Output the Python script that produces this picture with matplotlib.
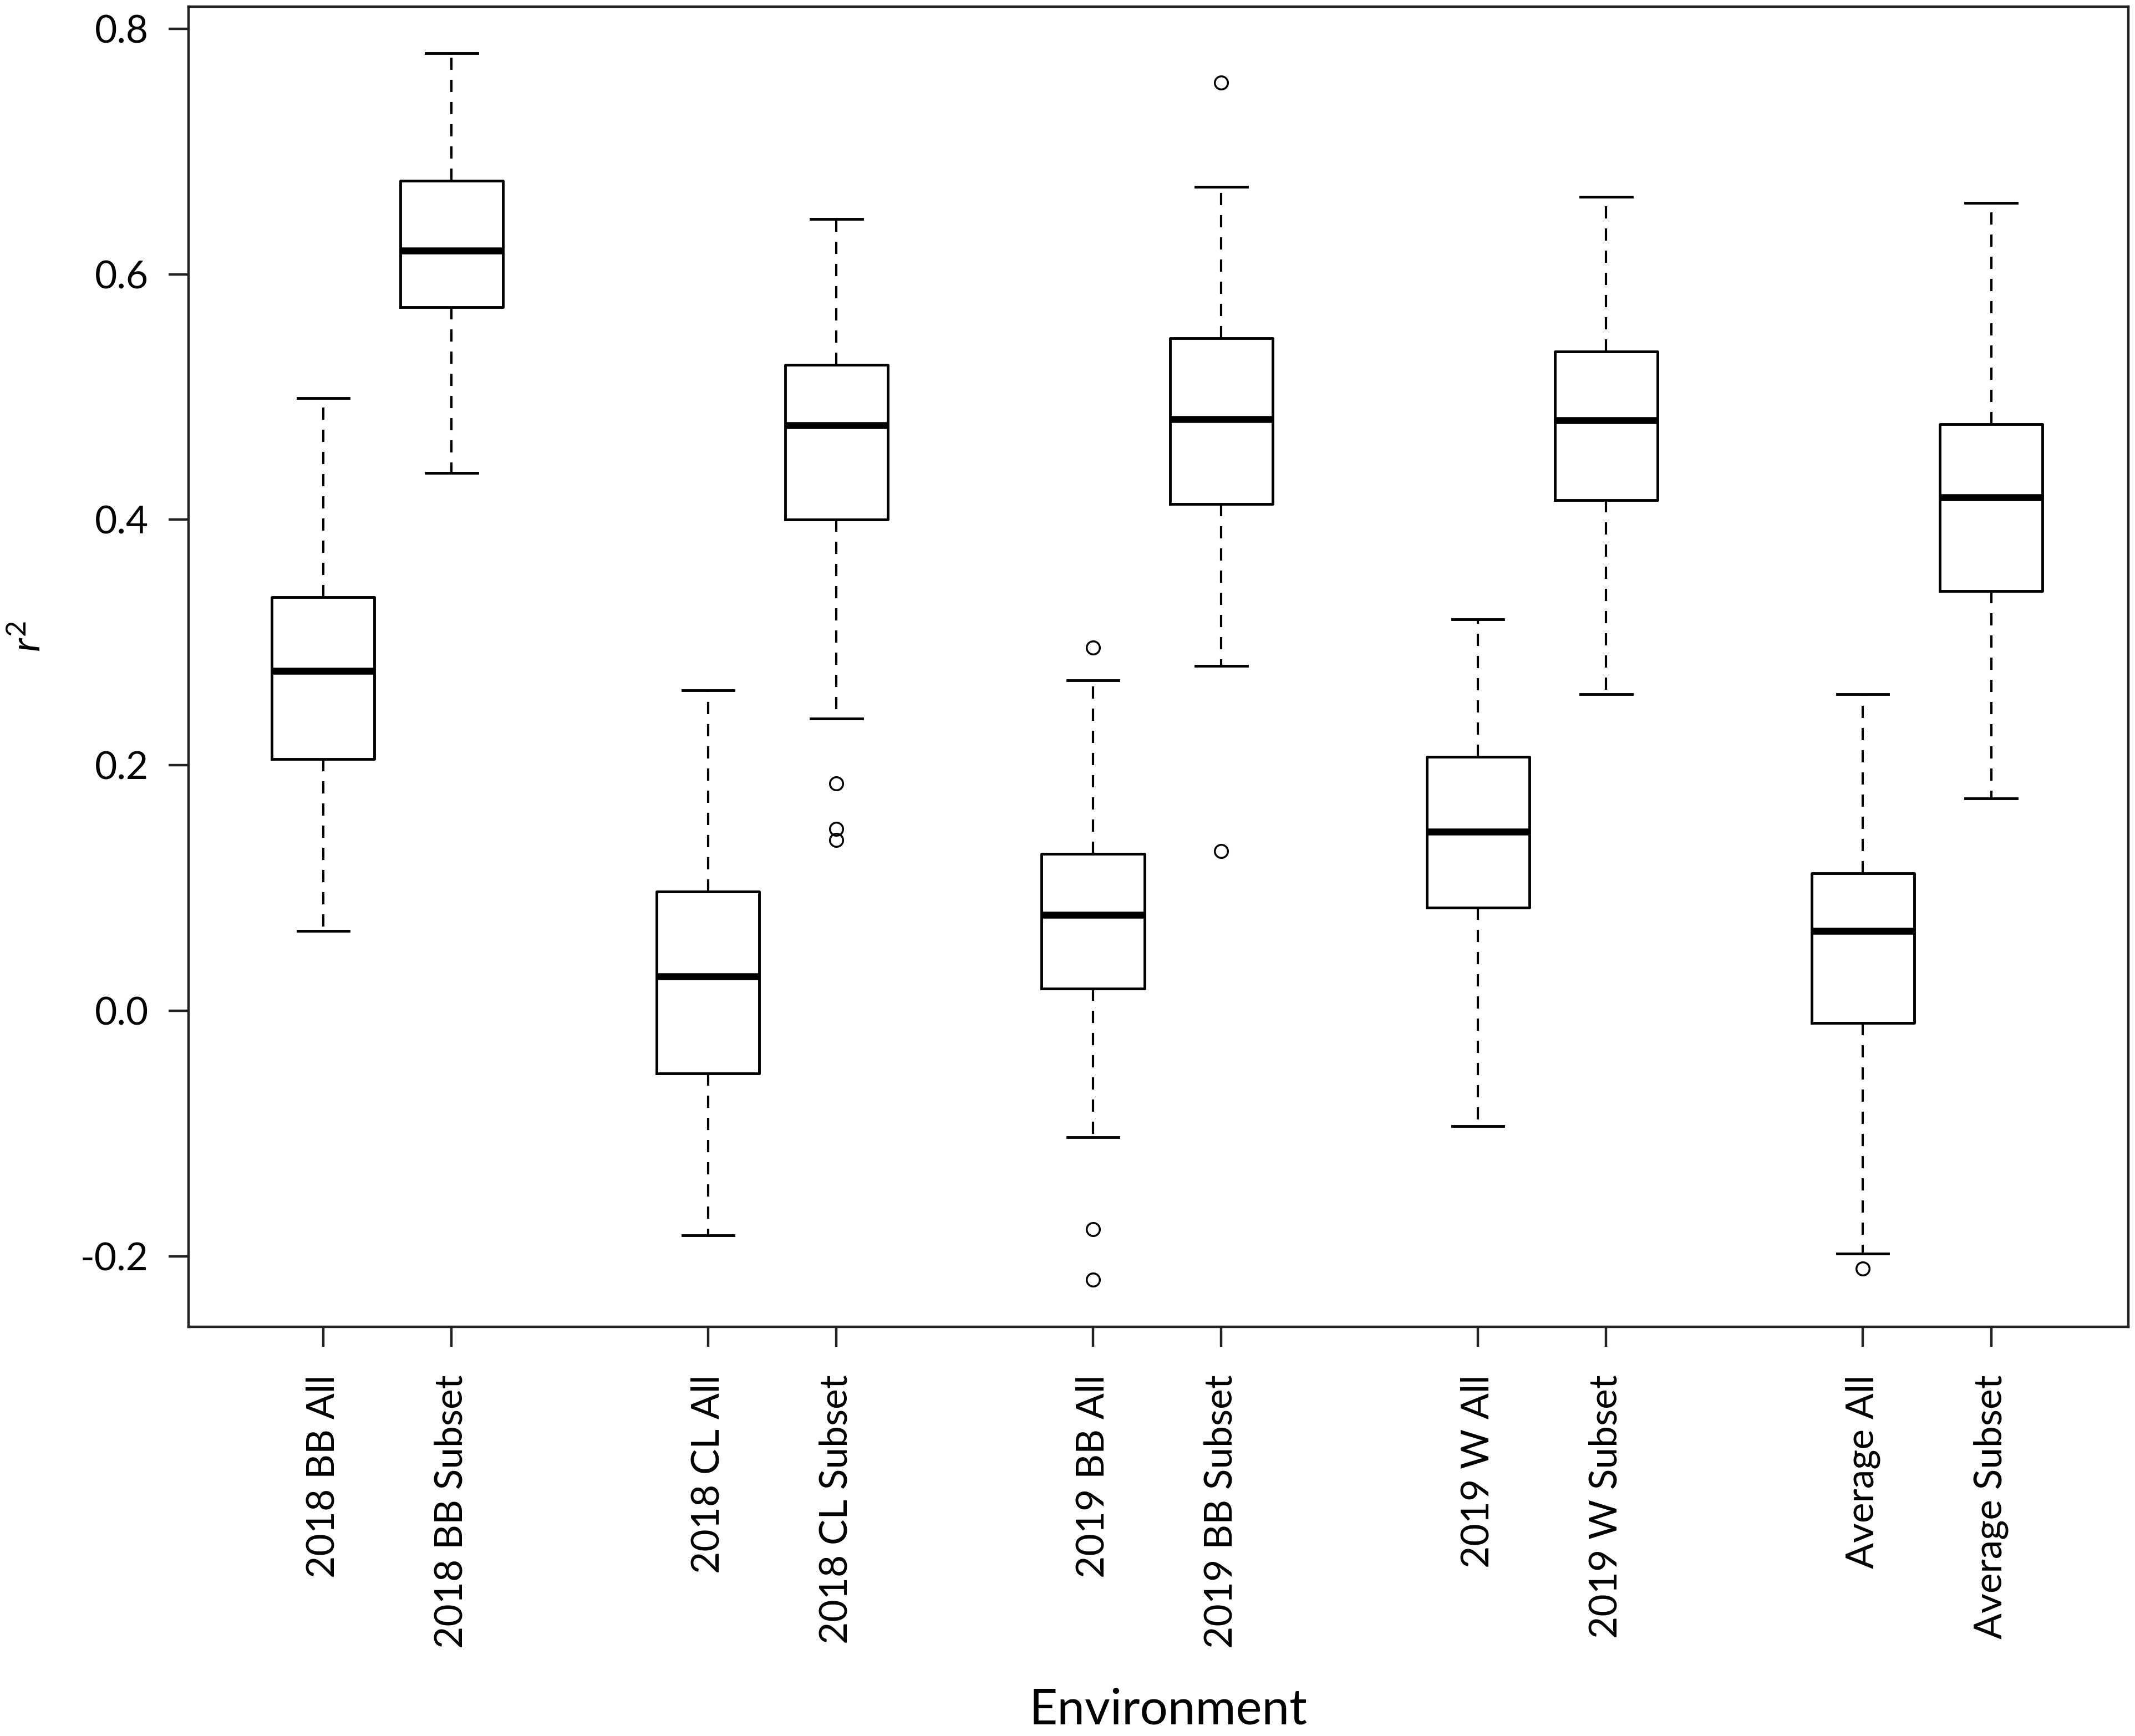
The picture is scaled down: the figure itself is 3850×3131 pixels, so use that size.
import matplotlib
matplotlib.use("Agg")
import matplotlib.pyplot as plt

# summary statistics
labels = ["2018 BB All", "2018 BB Subset", "2018 CL All", "2018 CL Subset",
          "2019 BB All", "2019 BB Subset", "2019 W All", "2019 W Subset",
          "Average All", "Average Subset"]
whislo = [0.065, 0.438, -0.183, 0.238, -0.103, 0.281, -0.094, 0.258, -0.198, 0.173]
q1 = [0.205, 0.573, -0.051, 0.400, 0.018, 0.413, 0.084, 0.416, -0.010, 0.342]
med = [0.277, 0.619, 0.028, 0.477, 0.078, 0.482, 0.146, 0.481, 0.065, 0.418]
q3 = [0.337, 0.676, 0.097, 0.526, 0.128, 0.548, 0.207, 0.537, 0.112, 0.478]
whishi = [0.499, 0.780, 0.261, 0.645, 0.269, 0.671, 0.319, 0.663, 0.258, 0.658]
fliers = [[], [], [], [0.185, 0.148, 0.139], [0.296, -0.178, -0.219],
          [0.756, 0.130], [], [], [-0.210], []]

positions = [1, 2, 4, 5, 7, 8, 10, 11, 13, 14]

plt.rcParams["font.family"] = ["Lato", "DejaVu Sans"]
plt.rcParams["axes.unicode_minus"] = False
plt.rcParams["mathtext.fontset"] = "custom"
plt.rcParams["mathtext.it"] = "Lato:italic"
plt.rcParams["mathtext.rm"] = "Lato"

stats = []
for i, lab in enumerate(labels):
    stats.append({"label": lab, "whislo": whislo[i], "q1": q1[i], "med": med[i],
                  "q3": q3[i], "whishi": whishi[i], "fliers": fliers[i]})

fig = plt.figure(figsize=(38.5, 31.31), dpi=100)
ax = fig.add_axes([0.0883, 0.2357, 0.9086, 0.7605])

ax.bxp(stats, positions=positions, widths=0.8, capwidths=0.4,
       boxprops=dict(color="black", linewidth=3.5),
       medianprops=dict(color="black", linewidth=9, solid_capstyle="butt"),
       whiskerprops=dict(color="black", linewidth=3, linestyle=(0, (5.3, 4.3))),
       capprops=dict(color="black", linewidth=3.5),
       flierprops=dict(marker="o", markersize=17, markerfacecolor="none",
                       markeredgecolor="black", markeredgewidth=2.5))

ax.set_xlim(-0.05, 15.07)
ax.set_ylim(-0.2575, 0.818)
ax.set_yticks([-0.2, 0.0, 0.2, 0.4, 0.6, 0.8])
ax.set_yticklabels(["-0.2", "0.0", "0.2", "0.4", "0.6", "0.8"])
ax.set_xticks(positions)
ax.set_xticklabels(labels, rotation=90, va="top", ha="center")

for sp in ax.spines.values():
    sp.set_linewidth(3.2)
    sp.set_color("#222222")
ax.tick_params(axis="both", length=26, width=3.2, color="#222222", labelsize=50)
ax.tick_params(axis="y", pad=26)
ax.tick_params(axis="x", pad=36)

ax.set_xlabel("Environment", fontsize=64)
ax.xaxis.set_label_coords(0.505, -0.273)
ax.set_ylabel("$r^2$", fontsize=52)
ax.yaxis.set_label_coords(-0.073, 0.523)

fig.savefig("out.png", dpi=100)
